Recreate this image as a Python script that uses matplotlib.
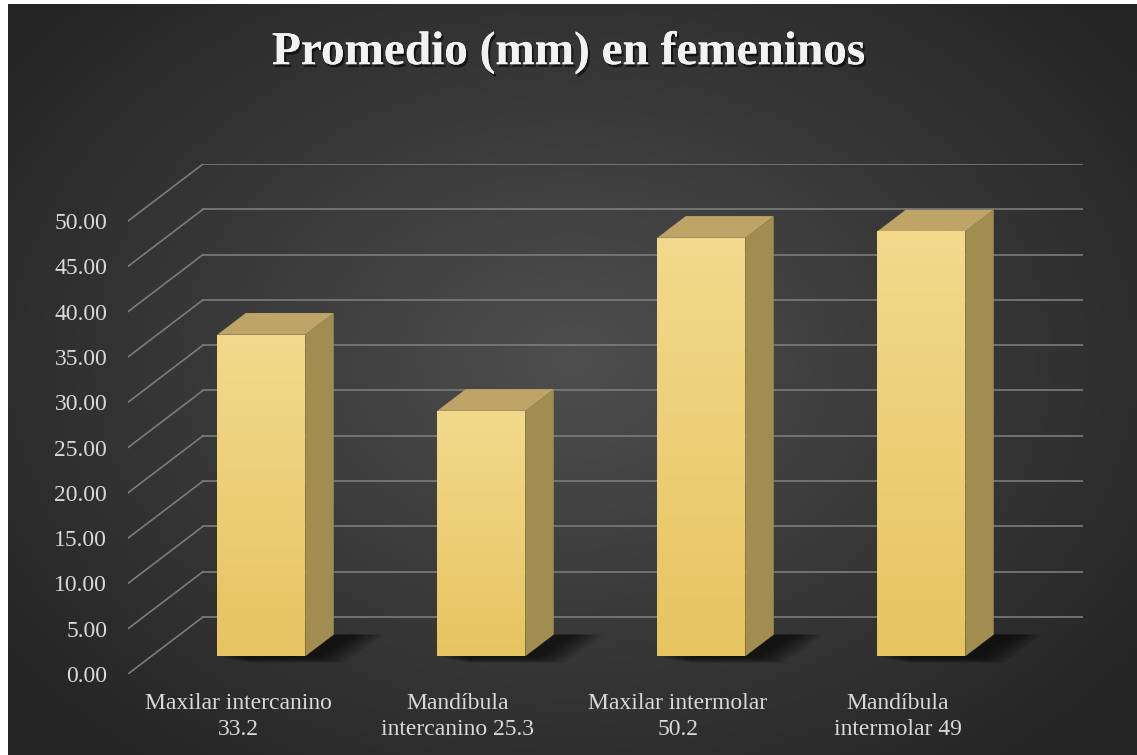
import numpy as np
import matplotlib
matplotlib.use("Agg")
import matplotlib.pyplot as plt
from matplotlib.patches import Polygon
import matplotlib.patheffects as pe

# data
categories = ["Maxilar intercanino\n33.2", "Mandíbula\nintercanino 25.3",
              "Maxilar intermolar\n50.2", "Mandíbula\nintermolar 49"]
values = [35.5, 27.1, 46.2, 46.9]
yticks = [0, 5, 10, 15, 20, 25, 30, 35, 40, 45, 50]
ytick_labels = ["%.2f" % t for t in yticks]
title = "Promedio (mm) en femeninos"

W, H = 1137, 755
DX, DY = 0.341, 6.3     # depth of the floor (category units, value units)
F0, FD = 0.31, 0.38     # where bars sit in depth, and how deep they are
BW = 0.4

fig = plt.figure(figsize=(W / 100, H / 100), dpi=100)
fig.patch.set_facecolor("white")

# dark radial background
bg = fig.add_axes([8 / W, 0, 1 - 8 / W, 1 - 4 / H])
bg.set_axis_off()
gx, gy = np.meshgrid(np.linspace(-1, 1, 400), np.linspace(-1, 1, 300))
r = np.sqrt(((gx - 0.0) / 1.0) ** 2 + ((gy + 0.05) / 1.1) ** 2)
lev = np.clip(0x4e - (0x4e - 0x25) * r / 1.25, 0x25, 0x4e) / 255.0
bg.imshow(np.dstack([lev, lev, lev]), aspect="auto", extent=[0, 1, 0, 1])
bg.set_xlim(0, 1)
bg.set_ylim(0, 1)

ax = fig.add_axes([128 / W, 81 / H, 955 / W, 510 / H])
ax.set_facecolor("none")
for s in ax.spines.values():
    s.set_visible(False)

grid_c = "#7c7c7c"
for t in yticks:
    ax.plot([-0.5, -0.5 + DX], [t, t + DY], color=grid_c, lw=1.2, zorder=1)
    ax.plot([-0.5 + DX, len(values) - 0.5 + DX], [t + DY, t + DY],
            color=grid_c, lw=1.2, zorder=1)

xs = np.arange(len(values))
x0 = xs + F0 * DX
b0 = F0 * DY

# soft shadows on the floor
for i, v in enumerate(values):
    for k in range(10):
        g = 0.014 * k
        sh = Polygon([(x0[i] - BW / 2 + 0.02 + g, b0 - 0.2 - 0.6 * k / 10),
                      (x0[i] + BW / 2 + 0.05 + g, b0 - 0.2 - 0.6 * k / 10),
                      (x0[i] + BW / 2 + FD * DX + 0.10 + g, b0 + FD * DY),
                      (x0[i] - BW / 2 + FD * DX, b0 + FD * DY)],
                     closed=True, facecolor="black", edgecolor="none",
                     alpha=0.08, zorder=2)
        ax.add_patch(sh)

bars = ax.bar(x0, values, width=BW, bottom=b0, color="#eecf78",
              edgecolor="none", zorder=3)

grad = np.linspace(0, 1, 256)[:, None]
front_top = np.array([0xf2, 0xd9, 0x8c]) / 255
front_bot = np.array([0xe6, 0xc4, 0x60]) / 255
front_img = front_top[None, None, :] * (1 - grad[..., None]) + front_bot[None, None, :] * grad[..., None]
for i, (bar, v) in enumerate(zip(bars, values)):
    xl, xr = x0[i] - BW / 2, x0[i] + BW / 2
    im = ax.imshow(front_img, aspect="auto", extent=[xl, xr, b0, b0 + v],
                   zorder=3.5, interpolation="bilinear")
    im.set_clip_path(bar)
    side = Polygon([(xr, b0), (xr + FD * DX, b0 + FD * DY),
                    (xr + FD * DX, b0 + v + FD * DY), (xr, b0 + v)],
                   closed=True, facecolor="#a28d50", edgecolor="none", zorder=3)
    top = Polygon([(xl, b0 + v), (xr, b0 + v),
                   (xr + FD * DX, b0 + v + FD * DY), (xl + FD * DX, b0 + v + FD * DY)],
                  closed=True, facecolor="#bea466", edgecolor="none", zorder=3)
    ax.add_patch(side)
    ax.add_patch(top)

ax.set_xlim(-0.5, len(values) - 0.5 + DX)
ax.set_ylim(0, max(yticks) + DY)

font = "Liberation Serif"
ax.set_yticks(yticks)
ax.set_yticklabels(ytick_labels, fontsize=17, family=font, color="#d9d9d9")
ax.set_xticks(xs)
ax.set_xticklabels(categories, fontsize=17, family=font, color="#d9d9d9",
                   linespacing=1.3)
ax.tick_params(axis="y", length=0, pad=15)
ax.tick_params(axis="x", length=0, pad=14)

fig.text(0.5, 1 - 53 / H, title, ha="center", va="center", fontsize=34,
         fontweight="bold", family=font, color="#f2f2f2",
         path_effects=[pe.withSimplePatchShadow(offset=(1.5, -2), shadow_rgbFace="black", alpha=0.6),
                       pe.Normal()])

fig.savefig("out.png", dpi=100, facecolor=fig.get_facecolor())
